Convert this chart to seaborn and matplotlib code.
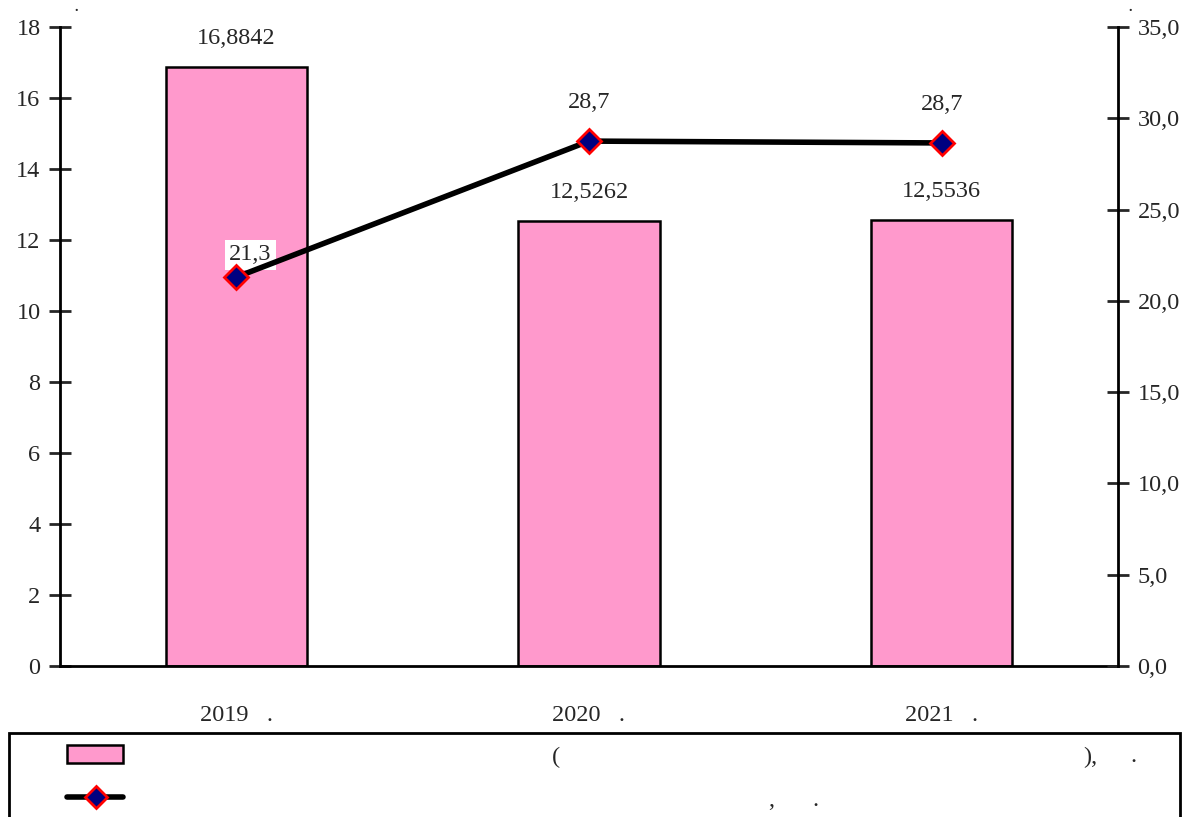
import pandas as pd
import numpy as np
import seaborn as sns
import matplotlib
matplotlib.use("Agg")
from matplotlib import pyplot as plt
from matplotlib.patches import Rectangle
from matplotlib.lines import Line2D

years = ["2019   .", "2020   .", "2021   ."]
bar_values = [16.8842, 12.5262, 12.5536]
bar_labels = ["16,8842", "12,5262", "12,5536"]
line_values = [21.3, 28.75, 28.65]
line_labels = ["21,3", "28,7", "28,7"]
left_ticks = [0, 2, 4, 6, 8, 10, 12, 14, 16, 18]
right_ticks = [0, 5, 10, 15, 20, 25, 30, 35]

sns.set_style("white")
plt.rcParams['font.family'] = ['Liberation Serif', 'DejaVu Serif']
FS = 17.5
PINK = "#ff99cc"

fig = plt.figure(figsize=(12.01, 8.17), dpi=100)
W, H = 1201, 817
ax = fig.add_axes([60 / W, 1 - 666 / H, (1118 - 60) / W, (666 - 27) / H])

df = pd.DataFrame({'year': years, 'value': bar_values})
sns.barplot(data=df, x='year', y='value', ax=ax, color=PINK, saturation=1,
            width=0.4, edgecolor='black', linewidth=1.8)
ax.set_xlim(-0.5, 2.5)
ax.set_ylim(0, 18)
ax.set_yticks(left_ticks)
ax.set_yticklabels([str(t) for t in left_ticks], fontsize=FS)
ax.set_xlabel('')
ax.set_ylabel('')
ax.set_xticks([-0.5, 0.5, 1.5, 2.5])
ax.set_xticklabels([])
ax.set_xticks([0, 1, 2], minor=True)
ax.set_xticklabels(years, minor=True, fontsize=FS)
ax.tick_params(axis='x', which='major', direction='inout', length=16, width=2)
ax.tick_params(axis='x', which='minor', length=0, pad=28)
ax.tick_params(axis='y', direction='inout', length=16, width=2, pad=6)
for s in ['top', 'right']:
    ax.spines[s].set_visible(False)
for s in ['left', 'bottom']:
    ax.spines[s].set_linewidth(2)
    ax.spines[s].set_color('black')

for i, (v, lab) in enumerate(zip(bar_values, bar_labels)):
    ax.annotate(lab, (i, v), xytext=(0, 13), textcoords='offset points',
                ha='center', va='bottom', fontsize=FS)

ax2 = ax.twinx()
ax2.plot(range(3), line_values, color='black', linewidth=4, marker='D',
         markersize=12, markerfacecolor='#000080', markeredgecolor='red',
         markeredgewidth=2, zorder=5)
ax2.set_ylim(0, 35)
ax2.set_yticks(right_ticks)
ax2.set_yticklabels([f"{t:.1f}".replace('.', ',') for t in right_ticks], fontsize=FS)
ax2.tick_params(axis='y', direction='inout', length=16, width=2, pad=6)
for s in ['top', 'left', 'bottom']:
    ax2.spines[s].set_visible(False)
ax2.spines['right'].set_linewidth(2)
ax2.spines['right'].set_color('black')
ax2.grid(False)
ax.grid(False)

ax2.annotate(line_labels[0], (0, line_values[0]), xytext=(10, 16), textcoords='offset points',
             ha='center', va='center', fontsize=FS,
             bbox=dict(facecolor='white', edgecolor='none', pad=3))
for i in [1, 2]:
    ax2.annotate(line_labels[i], (i, line_values[i]), xytext=(0, 28), textcoords='offset points',
                 ha='center', va='center', fontsize=FS)

# axis titles (text lost in the original rendering, only the dots remain)
fig.text(76 / W, 1 - 1 / H, ".", fontsize=10, fontweight='bold', ha='center', va='top')
fig.text(1130 / W, 1 - 1 / H, ".", fontsize=10, fontweight='bold', ha='center', va='top')

# legend frame
fig.patches.append(Rectangle((9 / W, -0.05), (1180 - 9) / W, 0.05 + (817 - 733) / H,
                             transform=fig.transFigure, facecolor='white',
                             edgecolor='black', linewidth=2))
fig.patches.append(Rectangle((67 / W, 1 - 763 / H), 56 / W, 18 / H,
                             transform=fig.transFigure, facecolor=PINK,
                             edgecolor='black', linewidth=1.8))
fig.lines.append(Line2D([67 / W, 123 / W], [1 - 797 / H, 1 - 797 / H],
                        transform=fig.transFigure, color='black', linewidth=4,
                        solid_capstyle='round'))
fig.lines.append(Line2D([96 / W], [1 - 797 / H], transform=fig.transFigure,
                        marker='D', markersize=11, markerfacecolor='#000080',
                        markeredgecolor='red', markeredgewidth=2))
for x, y, t in [(556, 757, "("), (1090, 757, "),"), (1133, 757, "."),
                (771, 800, ","), (815, 800, ".")]:
    fig.text(x / W, 1 - y / H, t, fontsize=FS, ha='center', va='center')

fig.savefig("out.png", dpi=100)
